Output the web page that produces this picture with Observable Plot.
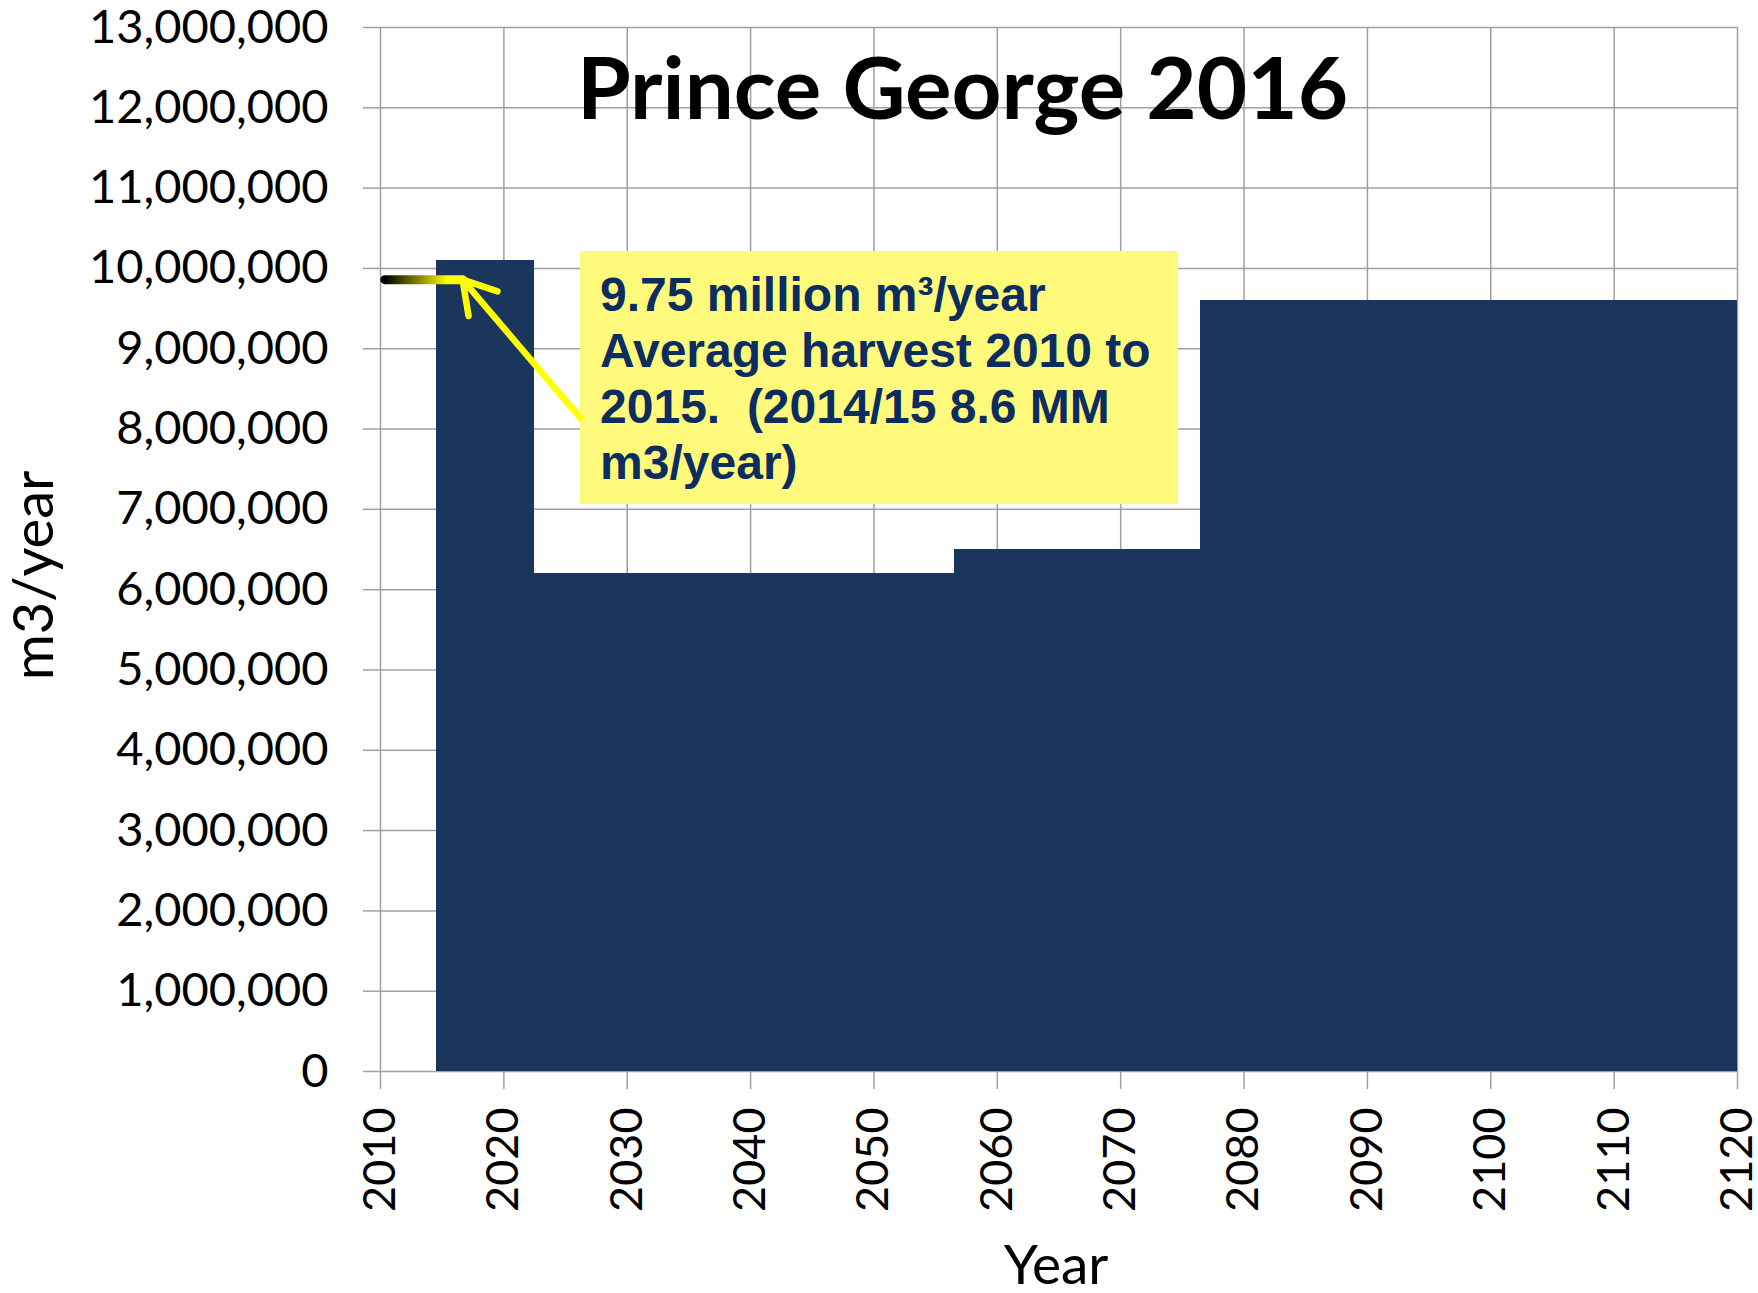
<!DOCTYPE html>
<html>
<head>
<meta charset="utf-8">
<script src="https://cdn.jsdelivr.net/npm/d3@7"></script>
<script src="https://cdn.jsdelivr.net/npm/@observablehq/plot@0.6"></script>
<style>
  html, body { margin: 0; padding: 0; background: #fff; }
  svg { display: block; }
  text { white-space: pre; }
</style>
</head>
<body>
<div id="chart"></div>
<script>
// ---- data ----
const periodStart = [2015, 2023, 2057, 2077];
const periodEnd   = [2022, 2056, 2076, 2120];
const harvest     = [10100000, 6200000, 6500000, 9600000]; // m3/year

const yearTicks   = [2010, 2020, 2030, 2040, 2050, 2060, 2070, 2080, 2090, 2100, 2110, 2120];
const volumeTicks = [0, 1000000, 2000000, 3000000, 4000000, 5000000, 6000000,
                     7000000, 8000000, 9000000, 10000000, 11000000, 12000000, 13000000];

const titleText = "Prince George 2016";
const xLabel = "Year";
const yLabel = "m3/year";
const noteLines = ["9.75 million m³/year", "Average harvest 2010 to", "2015.  (2014/15 8.6 MM", "m3/year)"];

// annotation placement, in data units (year, m3/year)
const noteBox   = [{x1: 2026.2, x2: 2074.7, y1: 7060000, y2: 10210000}];
const noteText  = [{x: 2027.8, y: 9966000, t: noteLines.join("\n")}];
const avgLine   = [{x: 2010.35, y: 9860000}, {x: 2016.65, y: 9860000}];
const noteArrow = [{x1: 2026.2, y1: 8140000, x2: 2016.65, y2: 9860000}];

const bars = periodStart.map((s, i) => ({start: s, end: periodEnd[i], value: harvest[i]}));

const gridColor = "#a0a0a0";
const barColor = "#1b365d";

const chart = Plot.plot({
  width: 1758,
  height: 1293,
  marginLeft: 380,
  marginRight: 21,
  marginTop: 27,
  marginBottom: 222,
  style: {background: "white", fontFamily: "Lato", overflow: "visible"},
  x: {type: "linear", domain: [2010, 2120]},
  y: {type: "linear", domain: [0, 13000000]},
  marks: [
    Plot.gridY(volumeTicks, {stroke: gridColor, strokeOpacity: 1, strokeWidth: 1.5}),
    Plot.gridX(yearTicks, {stroke: gridColor, strokeOpacity: 1, strokeWidth: 1.5}),
    Plot.axisY(volumeTicks, {
      tickSize: 17, tickPadding: 35, tickFormat: d3.format(","),
      stroke: gridColor, strokeWidth: 1.5, fill: "black",
      fontSize: 47, fontFamily: "Lato", label: null
    }),
    Plot.axisX(yearTicks, {
      tickSize: 18, tickPadding: 18, tickRotate: -90, tickFormat: d3.format("d"),
      stroke: gridColor, strokeWidth: 1.5, fill: "black",
      fontSize: 45, fontFamily: "Lato", label: null
    }),
    Plot.rectY(bars, {
      x1: d => d.start - 0.5, x2: d => d.end + 0.5, y: "value",
      fill: barColor, clip: true, shapeRendering: "crispEdges"
    }),
    Plot.rect(noteBox, {x1: "x1", x2: "x2", y1: "y1", y2: "y2", fill: "#fffa7c", shapeRendering: "crispEdges"}),
    Plot.text(noteText, {
      x: "x", y: "y", text: "t", textAnchor: "start", lineAnchor: "top",
      lineHeight: 1.167, fontSize: 48, fontWeight: "bold",
      fontFamily: "Liberation Sans, Arial, sans-serif", fill: "#0b2d5f"
    }),
    Plot.line(avgLine, {
      x: "x", y: "y", stroke: "url(#avgGradient)", strokeWidth: 9, strokeLinecap: "round"
    }),
    Plot.arrow(noteArrow, {
      x1: "x1", y1: "y1", x2: "x2", y2: "y2",
      stroke: "#ffff00", strokeWidth: 6.5, headLength: 8.5, headAngle: 62,
      strokeLinecap: "round", strokeLinejoin: "round"
    }),
    Plot.text([titleText], {
      text: d => d, frameAnchor: "top-left", dx: 582, dy: 91,
      textAnchor: "middle", lineAnchor: "bottom",
      fontSize: 87, fontWeight: "bold", fontFamily: "Lato", fill: "black"
    }),
    Plot.text([yLabel], {
      text: d => d, frameAnchor: "left", rotate: -90, dx: -328, dy: 26,
      textAnchor: "middle", lineAnchor: "bottom",
      fontSize: 56, fontFamily: "Lato", fill: "black"
    }),
    Plot.text([xLabel], {
      text: d => d, frameAnchor: "bottom", dx: -3, dy: 212,
      textAnchor: "middle", lineAnchor: "bottom",
      fontSize: 55, fontFamily: "Lato", fill: "black"
    })
  ]
});

// gradient for the average-harvest stroke (black -> yellow), positioned via the x scale
const xs = chart.scale("x");
const gx1 = xs.apply(avgLine[0].x), gx2 = xs.apply(avgLine[1].x);
const ns = "http://www.w3.org/2000/svg";
const defs = document.createElementNS(ns, "defs");
const grad = document.createElementNS(ns, "linearGradient");
grad.setAttribute("id", "avgGradient");
grad.setAttribute("gradientUnits", "userSpaceOnUse");
grad.setAttribute("x1", gx1); grad.setAttribute("x2", gx2);
grad.setAttribute("y1", 0); grad.setAttribute("y2", 0);
[["0", "#000000"], ["0.45", "#8a8a00"], ["0.8", "#ffff00"], ["1", "#ffff00"]].forEach(([o, c]) => {
  const s = document.createElementNS(ns, "stop");
  s.setAttribute("offset", o); s.setAttribute("stop-color", c);
  grad.appendChild(s);
});
defs.appendChild(grad);
chart.insertBefore(defs, chart.firstChild);

document.getElementById("chart").appendChild(chart);
</script>
</body>
</html>
